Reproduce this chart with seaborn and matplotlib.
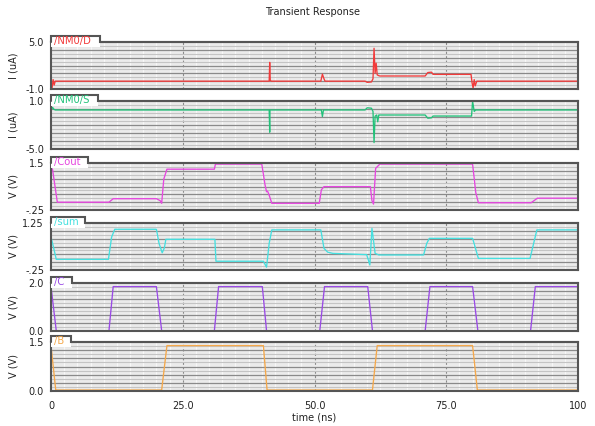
import numpy as np
import pandas as pd
import matplotlib
matplotlib.use("Agg")
import matplotlib.pyplot as plt
import seaborn as sns
from matplotlib.patches import Polygon

sns.set_style("white")
plt.rcParams['font.family'] = ['DejaVu Sans']

# ---------------- data ----------------
nm0d_t = [0, 0.2, 0.4, 0.6, 0.8, 1.2, 41.4, 41.5, 41.6, 41.8, 51.2, 51.5, 51.8, 52.0,
          59.6, 60.0, 60.8, 61.1, 61.3, 61.5, 61.7, 61.9, 62.2, 62.4, 71.0, 71.5, 72.2,
          72.5, 79.7, 79.9, 80.1, 80.3, 80.5, 80.8, 100]
nm0d_v = [0, -0.9, 0.2, -0.5, 0, 0, 0, 2.4, 0.1, 0, 0, 0.9, 0.3, 0,
          0, -0.15, -0.1, 0.3, 4.2, 1.0, 2.3, 0.8, 0.7, 0.66, 0.66, 1.1, 1.15,
          0.87, 0.87, -0.2, -0.9, 0.2, -0.6, 0, 0]

nm0s_t = [0, 0.3, 0.5, 0.8, 41.4, 41.5, 41.55, 51.3, 51.5, 51.7, 59.6, 60.0, 60.8,
          61.1, 61.3, 61.5, 61.8, 62.0, 62.2, 62.5, 71.0, 71.5, 72.2, 72.5, 79.8, 80.0,
          80.3, 80.6, 100]
nm0s_v = [-0.12, 0.2, 0.0, -0.12, -0.12, -2.9, -0.12, -0.12, -0.95, -0.12, -0.12, 0.15,
          0.1, -0.3, -4.2, -0.9, -0.75, -1.6, -0.75, -0.75, -0.75, -1.15, -1.1, -0.88,
          -0.88, 1.0, -0.3, -0.12, -0.12]

cout_t = [0, 0.3, 1.2, 11.0, 11.8, 20.0, 20.7, 21.0, 21.4, 22.0, 31.0, 31.2, 40.0,
          40.6, 40.9, 41.1, 41.4, 41.9, 50.9, 51.3, 51.8, 60.6, 60.9, 61.2, 61.6, 62.4,
          80.0, 80.6, 81.1, 91.1, 92.3, 100]
cout_v = [1.35, 1.25, 0.04, 0.04, 0.17, 0.17, 0.1, 0.0, 0.9, 1.27, 1.27, 1.46, 1.46,
          0.7, 0.43, 0.45, 0.3, 0.0, 0.0, 0.5, 0.62, 0.62, 0.1, -0.03, 1.3, 1.46,
          1.46, 0.4, 0.02, 0.02, 0.19, 0.19]

sum_t = [0, 0.3, 1.0, 10.9, 11.5, 12.1, 20.0, 20.5, 21.1, 21.5, 21.8, 31.1, 31.3, 40.3,
         40.9, 41.4, 41.9, 51.2, 51.8, 52.5, 53.5, 59.9, 60.5, 60.9, 61.5, 62.2, 70.7,
         71.3, 71.8, 80.0, 81.1, 90.9, 92.2, 100]
sum_v = [0.8, 0.6, 0.09, 0.09, 0.8, 1.05, 1.05, 0.6, 0.3, 0.45, 0.73, 0.73, 0.03, 0.03,
         -0.16, 0.6, 1.03, 1.03, 0.44, 0.32, 0.28, 0.24, -0.09, 1.08, 0.28, 0.23, 0.23,
         0.6, 0.76, 0.76, 0.12, 0.12, 1.03, 1.03]

c_t = [0, 1.0, 11.0, 11.8, 20.0, 21.0, 31.0, 31.8, 40.1, 40.9, 51.0, 51.9, 60.1, 61.0,
       71.0, 71.9, 80.0, 81.0, 91.0, 91.9, 100]
c_v = [1.85, 0.01, 0.01, 1.85, 1.85, 0.01, 0.01, 1.85, 1.85, 0.01, 0.01, 1.85, 1.85,
       0.01, 0.01, 1.85, 1.85, 0.01, 0.01, 1.85, 1.85]

b_t = [0, 0.9, 21.0, 22.0, 40.3, 41.0, 61.0, 61.9, 80.0, 80.9, 100]
b_v = [1.39, 0.03, 0.03, 1.39, 1.39, 0.03, 0.03, 1.39, 1.39, 0.03, 0.03]

names = ["/NM0/D", "/NM0/S", "/Cout", "/sum", "/C", "/B"]
colors = ["#f23a3a", "#22c27a", "#e646e0", "#45e0e0", "#9a4ae6", "#f5a84a"]
ylims = [(-1.0, 5.0), (-5.0, 1.0), (-0.25, 1.5), (-0.25, 1.25), (0.0, 2.0), (0.0, 1.5)]
ytick_labels = [("-1.0", "5.0"), ("-5.0", "1.0"), ("-.25", "1.5"), ("-.25", "1.25"),
                ("0.0", "2.0"), ("0.0", "1.5")]
ylabels = ["I (uA)", "I (uA)", "V (V)", "V (V)", "V (V)", "V (V)"]
series = [(nm0d_t, nm0d_v), (nm0s_t, nm0s_v), (cout_t, cout_v), (sum_t, sum_v),
          (c_t, c_v), (b_t, b_v)]
xticks = [0, 25, 50, 75, 100]
xtick_labels = ["0", "25.0", "50.0", "75.0", "100"]

# ---------------- layout (pixels) ----------------
W, H = 595, 426
left_px, right_px = 51, 578
panel_px = [(42, 89), (101, 149), (163, 210), (223, 270), (283, 331), (342, 391)]
tab_w_px = [49, 47, 37, 34, 21, 20]

fig = plt.figure(figsize=(W / 100, H / 100), dpi=100)
fig.patch.set_facecolor("white")

frame_col = "#555555"
for i in range(6):
    top, bot = panel_px[i]
    ax = fig.add_axes([left_px / W, 1 - bot / H, (right_px - left_px) / W, (bot - top) / H])
    lo, hi = ylims[i]
    ax.set_facecolor("#ebebeb")
    ax.set_xlim(0, 100)
    ax.set_ylim(lo, hi)

    # vertical grid
    for x in np.arange(2.5, 100, 2.5):
        if abs(x % 25) < 1e-9:
            ax.axvline(x, color="#8a8a8a", lw=0.8, ls=(0, (2, 2)), zorder=0.6)
        else:
            ax.axvline(x, color="#f8f8f8", lw=0.9, zorder=0.5)
    # horizontal grid
    n = 12
    for k in range(1, n):
        y = lo + k * (hi - lo) / n
        if k % 2 == 0:
            ax.axhline(y, color="#8a8a8a", lw=0.9, zorder=0.7)
        else:
            ax.axhline(y, color="#c4c4c4", lw=0.8, zorder=0.6)

    t, v = series[i]
    df = pd.DataFrame({"time": t, "val": v})
    sns.lineplot(data=df, x="time", y="val", ax=ax, color=colors[i], lw=0.95,
                 estimator=None, sort=False, legend=False, zorder=2)

    for s in ax.spines.values():
        s.set_color(frame_col)
        s.set_linewidth(1.5)

    ax.set_yticks([lo, hi])
    ax.set_yticklabels(list(ytick_labels[i]))
    ax.set_yticks(np.linspace(lo, hi, 11), minor=True)
    ax.tick_params(axis="y", which="major", direction="out", length=4, width=1,
                   colors="#222222", labelsize=7, pad=1)
    ax.tick_params(axis="y", which="minor", direction="inout", length=3, width=0.8,
                   colors="#222222")
    ax.set_xlabel("")
    ax.set_ylabel(ylabels[i], fontsize=7, color="#222222")
    ax.yaxis.set_label_coords((18 - left_px) / (right_px - left_px), 0.5)

    if i == 5:
        ax.set_xticks(xticks)
        ax.set_xticklabels(xtick_labels)
        ax.set_xticks(np.arange(0, 100.1, 2.5), minor=True)
        ax.tick_params(axis="x", which="major", direction="in", length=3, width=1,
                       colors="#222222", labelsize=7, pad=7)
        ax.tick_params(axis="x", which="minor", direction="in", length=2.5, width=0.8,
                       colors="#222222")
        ax.set_xlabel("time (ns)", fontsize=7, color="#222222", labelpad=1)
    else:
        ax.set_xticks([])

    # label tab
    ph = bot - top
    pw = right_px - left_px
    wf = tab_w_px[i] / pw
    up = 6.0 / ph
    down = 4.5 / ph
    poly = Polygon([(0, 1 - down), (0, 1 + up), (wf, 1 + up), (wf, 1 - down)],
                   closed=True, transform=ax.transAxes, facecolor="white",
                   edgecolor="none", clip_on=False, zorder=3)
    ax.add_patch(poly)
    ax.plot([0, 0, wf, wf, 1], [1, 1 + up, 1 + up, 1, 1], transform=ax.transAxes,
            color=frame_col, lw=1.5, clip_on=False, zorder=3.5, solid_joinstyle="miter")
    ax.text(3.0 / pw, 1 + (up - down) / 2, names[i], transform=ax.transAxes,
            color=colors[i], fontsize=7.2, ha="left", va="center", zorder=4)

fig.text(313 / W, 1 - 12 / H, "Transient Response", ha="center", va="center",
         fontsize=7, color="#222222")

fig.savefig("out.png", dpi=100, facecolor="white")
